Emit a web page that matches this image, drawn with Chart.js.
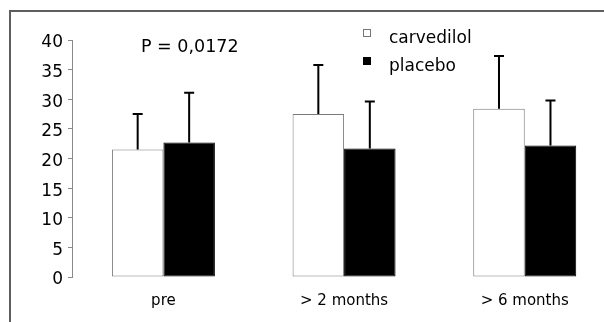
<!DOCTYPE html>
<html>
<head>
<meta charset="utf-8">
<script src="https://cdn.jsdelivr.net/npm/chart.js@4/dist/chart.umd.min.js"></script>
<style>
  body { margin: 0; background: #fff; }
  #wrap { width: 604px; height: 322px; position: relative; }
</style>
</head>
<body>
<div id="wrap"><canvas id="chart"></canvas></div>
<script>
const groups = ['pre', '> 2 months', '> 6 months'];
const carvedilol = [21.5, 27.5, 28.4];
const carvedilolSD = [6.0, 8.3, 8.9];
const placebo = [22.7, 21.7, 22.2];
const placeboSD = [8.4, 7.9, 7.6];
const yTicks = [0, 5, 10, 15, 20, 25, 30, 35, 40];
const pText = 'P = 0,0172';

const FONT = 'DejaVu Sans';

// frame, error bars, p value and the little legend
const extras = {
  id: 'extras',
  beforeDraw(c) {
    const ctx = c.ctx;
    ctx.save();
    ctx.strokeStyle = '#5e5e5e';
    ctx.lineWidth = 2;
    ctx.beginPath();
    ctx.moveTo(10, 322);
    ctx.lineTo(10, 11);
    ctx.lineTo(604, 11);
    ctx.stroke();
    ctx.restore();
  },
  afterDatasetsDraw(c) {
    const ctx = c.ctx;
    const y = c.scales.y;
    const sds = [carvedilolSD, placeboSD];
    ctx.save();
    ctx.strokeStyle = '#000';
    ctx.lineWidth = 2;
    c.data.datasets.forEach((ds, i) => {
      c.getDatasetMeta(i).data.forEach((bar, j) => {
        const top = y.getPixelForValue(ds.data[j].y + sds[i][j]);
        ctx.beginPath();
        ctx.moveTo(bar.x, bar.y);
        ctx.lineTo(bar.x, top);
        ctx.moveTo(bar.x - 5, top);
        ctx.lineTo(bar.x + 5, top);
        ctx.stroke();
      });
    });

    ctx.fillStyle = '#000';
    ctx.textBaseline = 'alphabetic';
    ctx.font = '17.5px "' + FONT + '"';
    ctx.fillText(pText, 141, 52);

    ctx.font = '17px "' + FONT + '"';
    c.data.datasets.forEach((ds, i) => {
      const ly = 29 + i * 28;
      ctx.fillStyle = ds.backgroundColor;
      ctx.fillRect(363, ly, 8, 8);
      ctx.lineWidth = 1;
      ctx.strokeStyle = i === 0 ? '#777' : '#000';
      ctx.strokeRect(363.5, ly + 0.5, 7, 7);
      ctx.fillStyle = '#000';
      ctx.fillText(ds.label, 389, ly + 14);
    });
    ctx.restore();
  }
};

new Chart(document.getElementById('chart'), {
  type: 'bar',
  data: {
    datasets: [
      {
        label: 'carvedilol',
        data: carvedilol.map((v, i) => ({ x: i, y: v })),
        backgroundColor: '#ffffff',
        borderColor: '#7a7a7a',
        borderWidth: 1,
        borderSkipped: false
      },
      {
        label: 'placebo',
        data: placebo.map((v, i) => ({ x: i, y: v })),
        backgroundColor: '#000000',
        borderColor: '#000000',
        borderWidth: 1,
        borderSkipped: false
      }
    ]
  },
  options: {
    responsive: true,
    maintainAspectRatio: false,
    animation: false,
    categoryPercentage: 0.57,
    barPercentage: 1,
    layout: { padding: { left: 10, top: 40, right: 7, bottom: 0 } },
    plugins: {
      legend: { display: false },
      tooltip: { enabled: false }
    },
    scales: {
      x: {
        type: 'linear',
        offset: false,
        min: -0.506,
        max: 2.4,
        grid: { display: false, drawTicks: false },
        border: { display: false },
        afterBuildTicks: s => { s.ticks = groups.map((g, i) => ({ value: i })); },
        afterFit: s => { s.height = 45; },
        ticks: {
          padding: 15,
          color: '#000',
          font: { family: FONT, size: 15 },
          callback: v => groups[v]
        }
      },
      y: {
        min: 0,
        max: 40,
        afterBuildTicks: s => { s.ticks = yTicks.map(v => ({ value: v })); },
        afterFit: s => { s.width = 62; },
        grid: { drawOnChartArea: false, drawTicks: true, tickLength: 4, color: '#8a8a8a' },
        border: { display: true, color: '#8a8a8a', width: 1 },
        ticks: {
          padding: 5,
          labelOffset: 3,
          color: '#000',
          font: { family: FONT, size: 17 }
        }
      }
    }
  },
  plugins: [extras]
});
</script>
</body>
</html>
